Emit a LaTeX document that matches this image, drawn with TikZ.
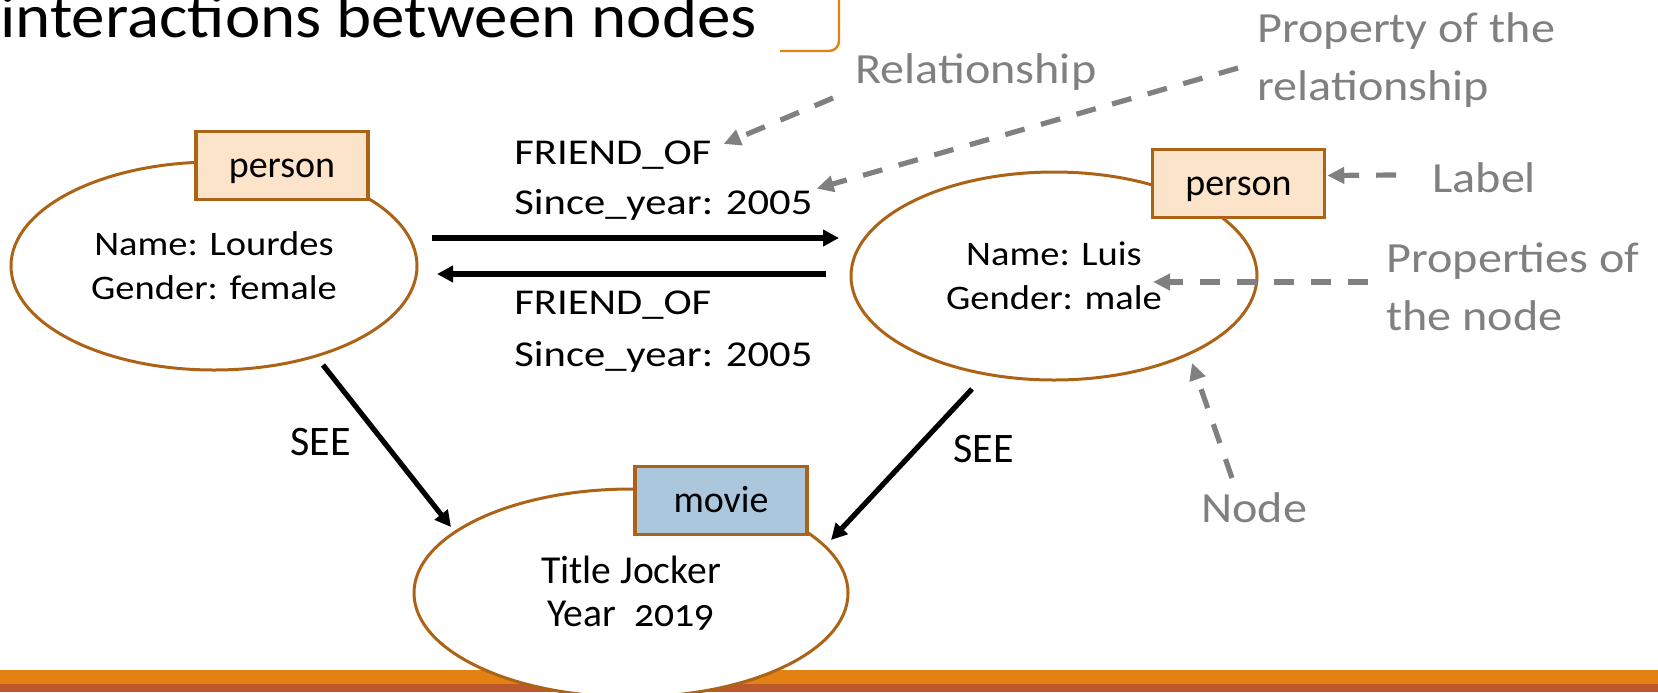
\documentclass[tikz,border=0pt]{standalone}
\usepackage{fontspec}
\setmainfont{Carlito}
\newfontfamily\titlefont[FakeStretch=1.08]{Carlito}
\newfontfamily\notefont[FakeStretch=1.12]{Carlito}
\newfontfamily\relfont[FakeStretch=1.17]{Carlito}
\newfontfamily\moviefont[Numbers=OldStyle]{Carlito}
\usetikzlibrary{shapes.geometric,arrows.meta,calc}
\definecolor{nodebrown}{RGB}{173,99,22}
\definecolor{personfill}{RGB}{252,228,202}
\definecolor{moviefill}{RGB}{170,199,222}
\definecolor{notegray}{RGB}{128,128,128}
\definecolor{barorange}{RGB}{227,129,18}
\definecolor{barbrown}{RGB}{188,88,44}

\begin{document}
\begin{tikzpicture}[x=0.5pt, y=-0.5pt,
	entity/.style={ellipse, draw=nodebrown, line width=1.5pt, fill=white, inner sep=0pt,
		minimum width=203pt, minimum height=104pt, align=center,
		font=\notefont\fontsize{17.2}{22}\selectfont},
	tag/.style={draw=nodebrown, line width=1.75pt, minimum width=86pt, minimum height=34pt,
		inner sep=0pt, text height=14pt, text depth=2.5pt, font=\fontsize{19}{22}\selectfont},
	rellabel/.style={anchor=base west, inner sep=0pt, font=\relfont\fontsize{18.2}{22}\selectfont},
	seelabel/.style={anchor=base west, inner sep=0pt, font=\fontsize{21}{24}\selectfont},
	note/.style={anchor=base west, inner sep=0pt, align=left, text=notegray,
		font=\notefont\fontsize{21.5}{29}\selectfont},
	rel/.style={line width=2.6pt, -{Triangle[length=8pt,width=8pt]}},
	pointer/.style={notegray, line width=2.6pt, dash pattern=on 10pt off 8.5pt,
		-{Triangle[length=8.5pt,width=8pt]}}]
	\useasboundingbox (0,0) rectangle (1658,692);
	% slide decoration
	\fill[barorange] (0,670) rectangle (1658,684);
	\fill[barbrown] (0,684) rectangle (1658,692);
	\draw[barorange, line width=1.2pt, rounded corners=5pt] (839,-5) -- (839,51) -- (780,51);
	\node[anchor=base west, inner sep=0pt, font=\titlefont\fontsize{31}{34}\selectfont] (heading) at (0,37) {interactions between nodes};
	% nodes of the graph
	\node[entity] (lourdes) at (214,266) {Name: Lourdes\\Gender: female};
	\node[entity] (luis) at (1054,276) {Name: Luis\\Gender: male};
	\node[entity, minimum width=217pt, font=\moviefont\fontsize{19.8}{21.5}\selectfont] (movie) at (631,593) {Title Jocker\\Year~~2019};
	\node[tag, fill=personfill] (lourdestag) at (282,165.5) {person};
	\node[tag, fill=personfill] (luistag) at (1238.5,183.5) {person};
	\node[tag, fill=moviefill] (movietag) at (721,500.5) {movie};
	% relationships
	\node[rellabel] (friendA) at (514,164) {FRIEND\_OF};
	\node[rellabel] (sinceA) at (514,214) {Since\_year: 2005};
	\node[rellabel] (friendB) at (514,314) {FRIEND\_OF};
	\node[rellabel] (sinceB) at (514,366) {Since\_year: 2005};
	\node[seelabel] (seeA) at (290,455) {SEE};
	\node[seelabel] (seeB) at (953,462) {SEE};
	\draw[rel] ($(lourdes.center)+(218,-28)$) -- ($(luis.center)+(-215,-38)$);
	\draw[rel] ($(luis.center)+(-228,-2)$) -- ($(lourdes.center)+(223,8)$);
	\draw[rel] ($(lourdes.center)+(109,99)$) -- ($(movie.center)+(-180,-66)$);
	\draw[rel] ($(luis.center)+(-82,113)$) -- ($(movie.center)+(200,-53)$);
	% explanations (base of a two-line note is its last line)
	\node[note] (relnote) at (855,83) {Relationship};
	\node[note] (propnote) at (1257,100) {Property of the\\relationship};
	\node[note] (labelnote) at (1432,192) {Label};
	\node[note] (propsnote) at (1386,330) {Properties of\\the node};
	\node[note] (nodenote) at (1201,522) {Node};
	\draw[pointer] ($(relnote.base west)+(-22,15)$) -- ($(friendA.north east)+(12,4)$);
	\draw[pointer] ($(propnote.base west)+(-19,-32)$) -- ($(sinceA.north east)+(4,0)$);
	\draw[pointer] ($(labelnote.base west)+(-36,-17)$) -- ($(luistag.east)+(1,-8)$);
	\draw[pointer] ($(propsnote.base west)+(-18,-48)$) -- ($(luis.center)+(99,6)$);
	\draw[pointer] ($(nodenote.base west)+(31,-44)$) -- ($(luis.center)+(138,87)$);
\end{tikzpicture}
\end{document}
